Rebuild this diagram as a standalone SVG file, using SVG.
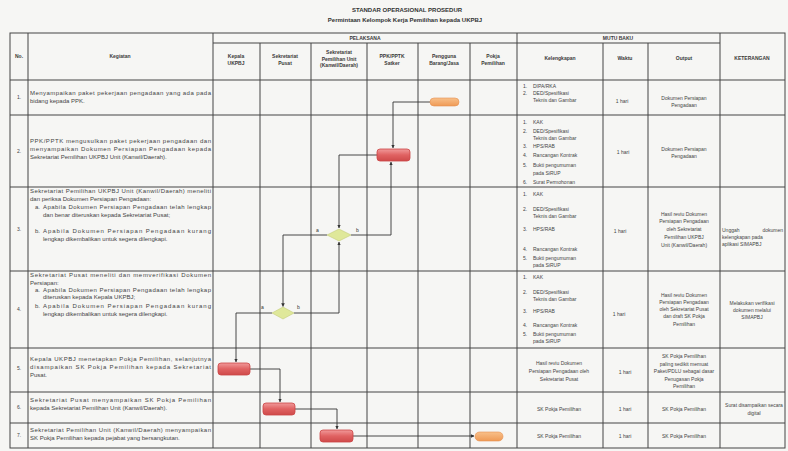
<svg xmlns="http://www.w3.org/2000/svg" width="788" height="451" viewBox="0 0 788 451">
<defs>
<style>
text{font-family:"Liberation Sans",Arial,sans-serif;fill:#444}
.t{font-size:6px}
.s{font-size:5px}
.c{font-size:5px;text-anchor:middle}
.h{font-size:5px;font-weight:bold;text-anchor:middle;fill:#3a3a3a}
.ti{font-size:6px;font-weight:bold;text-anchor:middle;fill:#333}
.g{stroke:#444;stroke-width:1;fill:none}
.red{fill:url(#rg);stroke:#c44;stroke-width:0.8}
.org{fill:url(#og);stroke:#e59050;stroke-width:0.6}
.dia{fill:#dfe89a;stroke:#c4cc78;stroke-width:0.6}
.cn{stroke:#333;stroke-width:0.9;fill:none;marker-end:url(#ar)}
.lb{font-size:5px;fill:#333}
</style>
<linearGradient id="rg" x1="0" y1="0" x2="0" y2="1"><stop offset="0" stop-color="#f19a9a"/><stop offset="0.5" stop-color="#e06262"/><stop offset="1" stop-color="#cf4a4a"/></linearGradient>
<linearGradient id="og" x1="0" y1="0" x2="0" y2="1"><stop offset="0" stop-color="#f8c08a"/><stop offset="1" stop-color="#ef9a55"/></linearGradient>
<marker id="ar" viewBox="0 0 6 6" refX="5.5" refY="3" markerWidth="4" markerHeight="4" orient="auto"><path d="M0,0 L6,3 L0,6 z" fill="#333"/></marker>
</defs>
<rect width="788" height="451" fill="#f6f6f4"/>

<g id="title">
<text class="ti" x="407" y="12">STANDAR OPERASIONAL PROSEDUR</text>
<text class="ti" x="405" y="22">Permintaan Kelompok Kerja Pemilihan kepada UKPBJ</text>
</g>

<g id="table">
<rect class="g" x="10" y="33" width="775" height="415"/>
<path class="g" d="M213,43 H720 M10,80 H785 M10,115 H785 M10,187 H785 M10,271 H785 M10,348 H785 M10,392 H785 M10,423 H785"/>
<path class="g" d="M28,33 V448 M213,33 V448 M517,33 V448 M720,33 V448 M260,43 V448 M311,43 V448 M367,43 V448 M418,43 V448 M470,43 V448 M603,43 V448 M648,43 V448"/>
</g>

<g id="header">
<text class="h" x="19" y="58">No.</text>
<text class="h" x="120" y="58">Kegiatan</text>
<text class="h" x="365" y="40">PELAKSANA</text>
<text class="h" x="618" y="40">MUTU BAKU</text>
<text class="h" x="236" y="58">Kepala</text><text class="h" x="236" y="65">UKPBJ</text>
<text class="h" x="285" y="58">Sekretariat</text><text class="h" x="285" y="65">Pusat</text>
<text class="h" x="339" y="54">Sekretariat</text><text class="h" x="339" y="60.5">Pemilihan Unit</text><text class="h" x="339" y="67">(Kanwil/Daerah)</text>
<text class="h" x="392" y="58">PPK/PPTK</text><text class="h" x="392" y="65">Satker</text>
<text class="h" x="444" y="58">Pengguna</text><text class="h" x="444" y="65">Barang/Jasa</text>
<text class="h" x="493" y="58">Pokja</text><text class="h" x="493" y="65">Pemilihan</text>
<text class="h" x="560" y="60">Kelengkapan</text>
<text class="h" x="625" y="60">Waktu</text>
<text class="h" x="684" y="60">Output</text>
<text class="h" x="752" y="60">KETERANGAN</text>
</g>

<g id="row1">
<text class="c" x="19" y="99">1.</text>
<text class="t" x="30" y="95" textLength="181" lengthAdjust="spacing">Menyampaikan paket pekerjaan pengadaan yang ada pada</text>
<text class="t" x="30" y="103">bidang kepada PPK.</text>
<text class="s" x="523" y="88">1.</text><text class="s" x="533" y="88">DIPA/RKA</text>
<text class="s" x="523" y="95">2.</text><text class="s" x="533" y="95">DED/Spesifikasi</text>
<text class="s" x="533" y="102">Teknis dan Gambar</text>
<text class="c" x="622" y="103">1 hari</text>
<text class="c" x="684" y="100">Dokumen Persiapan</text>
<text class="c" x="684" y="107">Pengadaan</text>
</g>

<g id="row2">
<text class="c" x="19" y="153">2.</text>
<text class="t" x="30" y="143" textLength="181" lengthAdjust="spacing">PPK/PPTK mengusulkan paket pekerjaan pengadaan dan</text>
<text class="t" x="30" y="151" textLength="181" lengthAdjust="spacing">menyampaikan Dokumen Persiapan Pengadaan kepada</text>
<text class="t" x="30" y="159">Sekretariat Pemilihan UKPBJ Unit (Kanwil/Daerah).</text>
<text class="s" x="523" y="124">1.</text><text class="s" x="533" y="124">KAK</text>
<text class="s" x="523" y="133">2.</text><text class="s" x="533" y="133">DED/Spesifikasi</text>
<text class="s" x="533" y="140">Teknis dan Gambar</text>
<text class="s" x="523" y="148">3.</text><text class="s" x="533" y="148">HPS/RAB</text>
<text class="s" x="523" y="157">4.</text><text class="s" x="533" y="157">Rancangan Kontrak</text>
<text class="s" x="523" y="167">5.</text><text class="s" x="533" y="167">Bukti pengumuman</text>
<text class="s" x="533" y="175">pada SiRUP</text>
<text class="s" x="523" y="184">6.</text><text class="s" x="533" y="184">Surat Permohonan</text>
<text class="c" x="623" y="154">1 hari</text>
<text class="c" x="684" y="151">Dokumen Persiapan</text>
<text class="c" x="684" y="158">Pengadaan</text>
</g>

<g id="row3">
<text class="c" x="19" y="231">3.</text>
<text class="t" x="30" y="193" textLength="181" lengthAdjust="spacing">Sekretariat Pemilihan UKPBJ Unit (Kanwil/Daerah) meneliti</text>
<text class="t" x="30" y="201">dan periksa Dokumen Persiapan Pengadaan:</text>
<text class="t" x="35" y="209">a.</text>
<text class="t" x="43" y="209" textLength="168" lengthAdjust="spacing">Apabila Dokumen Persiapan Pengadaan telah lengkap</text>
<text class="t" x="43" y="217">dan benar diteruskan kepada Sekretariat Pusat;</text>
<text class="t" x="35" y="233">b.</text>
<text class="t" x="43" y="233" textLength="168" lengthAdjust="spacing">Apabila Dokumen Persiapan Pengadaan kurang</text>
<text class="t" x="43" y="241">lengkap dikembalikan untuk segera dilengkapi.</text>
<text class="s" x="523" y="196">1.</text><text class="s" x="533" y="196">KAK</text>
<text class="s" x="523" y="211">2.</text><text class="s" x="533" y="211">DED/Spesifikasi</text>
<text class="s" x="533" y="218">Teknis dan Gambar</text>
<text class="s" x="523" y="231">3.</text><text class="s" x="533" y="231">HPS/RAB</text>
<text class="s" x="523" y="251">4.</text><text class="s" x="533" y="251">Rancangan Kontrak</text>
<text class="s" x="523" y="260">5.</text><text class="s" x="533" y="260">Bukti pengumuman</text>
<text class="s" x="533" y="267">pada SiRUP</text>
<text class="c" x="620" y="233">1 hari</text>
<text class="c" x="684" y="216">Hasil reviu Dokumen</text>
<text class="c" x="684" y="223">Persiapan Pengadaan</text>
<text class="c" x="684" y="231">oleh Sekretariat</text>
<text class="c" x="684" y="239">Pemilihan UKPBJ</text>
<text class="c" x="684" y="247">Unit (Kanwil/Daerah)</text>
<text class="s" x="722" y="232">Unggah</text>
<text class="s" x="783" y="232" text-anchor="end">dokumen</text>
<text class="s" x="722" y="239">kelengkapan pada</text>
<text class="s" x="722" y="246">aplikasi SIMAPBJ</text>
</g>

<g id="row4">
<text class="c" x="19" y="311">4.</text>
<text class="t" x="30" y="277" textLength="181" lengthAdjust="spacing">Sekretariat Pusat meneliti dan memverifikasi Dokumen</text>
<text class="t" x="30" y="285">Persiapan:</text>
<text class="t" x="35" y="292">a.</text>
<text class="t" x="43" y="292" textLength="168" lengthAdjust="spacing">Apabila Dokumen Persiapan Pengadaan telah lengkap</text>
<text class="t" x="43" y="299">diteruskan kepada Kepala UKPBJ;</text>
<text class="t" x="35" y="308">b.</text>
<text class="t" x="43" y="308" textLength="168" lengthAdjust="spacing">Apabila Dokumen Persiapan Pengadaan kurang</text>
<text class="t" x="43" y="316">lengkap dikembalikan untuk segera dilengkapi.</text>
<text class="s" x="523" y="279">1.</text><text class="s" x="533" y="279">KAK</text>
<text class="s" x="523" y="294">2.</text><text class="s" x="533" y="294">DED/Spesifikasi</text>
<text class="s" x="533" y="301">Teknis dan Gambar</text>
<text class="s" x="523" y="313">3.</text><text class="s" x="533" y="313">HPS/RAB</text>
<text class="s" x="523" y="327">4.</text><text class="s" x="533" y="327">Rancangan Kontrak</text>
<text class="s" x="523" y="336">5.</text><text class="s" x="533" y="336">Bukti pengumuman</text>
<text class="s" x="533" y="343">pada SiRUP</text>
<text class="c" x="619" y="316">1 hari</text>
<text class="c" x="684" y="297">Hasil reviu Dokumen</text>
<text class="c" x="684" y="304">Persiapan Pengadaan</text>
<text class="c" x="684" y="311">oleh Sekretariat Pusat</text>
<text class="c" x="684" y="318">dan draft SK Pokja</text>
<text class="c" x="684" y="326">Pemilihan</text>
<text class="c" x="752" y="305">Melakukan verifikasi</text>
<text class="c" x="752" y="312">dokumen melalui</text>
<text class="c" x="752" y="319">SIMAPBJ</text>
</g>

<g id="row5">
<text class="c" x="19" y="370">5.</text>
<text class="t" x="30" y="361" textLength="181" lengthAdjust="spacing">Kepala UKPBJ menetapkan Pokja Pemilihan, selanjutnya</text>
<text class="t" x="30" y="369" textLength="181" lengthAdjust="spacing">disampaikan SK Pokja Pemilihan kepada Sekretariat</text>
<text class="t" x="30" y="377">Pusat.</text>
<text class="c" x="559" y="365">Hasil reviu Dokumen</text>
<text class="c" x="559" y="373">Persiapan Pengadaan oleh</text>
<text class="c" x="559" y="381">Sekretariat Pusat</text>
<text class="c" x="625" y="374">1 hari</text>
<text class="c" x="684" y="358">SK Pokja Pemilihan</text>
<text class="c" x="684" y="366">paling sedikit memuat</text>
<text class="c" x="684" y="373">Paket/PDLU sebagai dasar</text>
<text class="c" x="684" y="381">Penugasan Pokja</text>
<text class="c" x="684" y="388">Pemilihan</text>
</g>

<g id="row6">
<text class="c" x="19" y="409">6.</text>
<text class="t" x="30" y="402" textLength="181" lengthAdjust="spacing">Sekretariat Pusat menyampaikan SK Pokja Pemilihan</text>
<text class="t" x="30" y="410">kepada Sekretariat Pemilihan Unit (Kanwil/Daerah).</text>
<text class="c" x="559" y="411">SK Pokja Pemilihan</text>
<text class="c" x="625" y="411">1 hari</text>
<text class="c" x="684" y="411">SK Pokja Pemilihan</text>
<text class="c" x="754" y="407">Surat disampaikan secara</text>
<text class="c" x="754" y="415">digital</text>
</g>

<g id="row7">
<text class="c" x="19" y="437">7.</text>
<text class="t" x="30" y="432" textLength="181" lengthAdjust="spacing">Sekretariat Pemilihan Unit (Kanwil/Daerah) menyampaikan</text>
<text class="t" x="30" y="440">SK Pokja Pemilihan kepada pejabat yang bersangkutan.</text>
<text class="c" x="559" y="438">SK Pokja Pemilihan</text>
<text class="c" x="625" y="438">1 hari</text>
<text class="c" x="684" y="438">SK Pokja Pemilihan</text>
</g>

<g id="connectors">
<path class="cn" d="M430,102 H393 V148"/>
<path class="cn" d="M377,155 H339 V228"/>
<path class="cn" d="M327,235 H283 V306.5"/>
<path class="cn" d="M351,235 H391 V162"/>
<path class="cn" d="M272,313 H236 V362"/>
<path class="cn" d="M294,313 H339 V242"/>
<path class="cn" d="M250,369 H280 V402"/>
<path class="cn" d="M295,409 H337 V429"/>
<path class="cn" d="M353,436 H474"/>
<text class="lb" x="316" y="232">a</text>
<text class="lb" x="356" y="232">b</text>
<text class="lb" x="261" y="309">a</text>
<text class="lb" x="297" y="309">b</text>
</g>

<g id="n1"><rect class="org" x="430" y="98" width="29" height="8" rx="4"/></g>
<g id="n2"><rect class="red" x="377" y="149" width="33" height="12" rx="3"/></g>
<g id="n3"><path class="dia" d="M327,235 L339,229 L351,235 L339,241 Z"/></g>
<g id="n4"><path class="dia" d="M272,313 L283,307 L294,313 L283,319 Z"/></g>
<g id="n5"><rect class="red" x="218" y="363" width="32" height="12" rx="3"/></g>
<g id="n6"><rect class="red" x="263" y="403" width="32" height="12" rx="3"/></g>
<g id="n7"><rect class="red" x="320" y="430" width="33" height="12" rx="3"/></g>
<g id="n8"><rect class="org" x="475" y="432" width="28" height="9" rx="4.5"/></g>
</svg>
